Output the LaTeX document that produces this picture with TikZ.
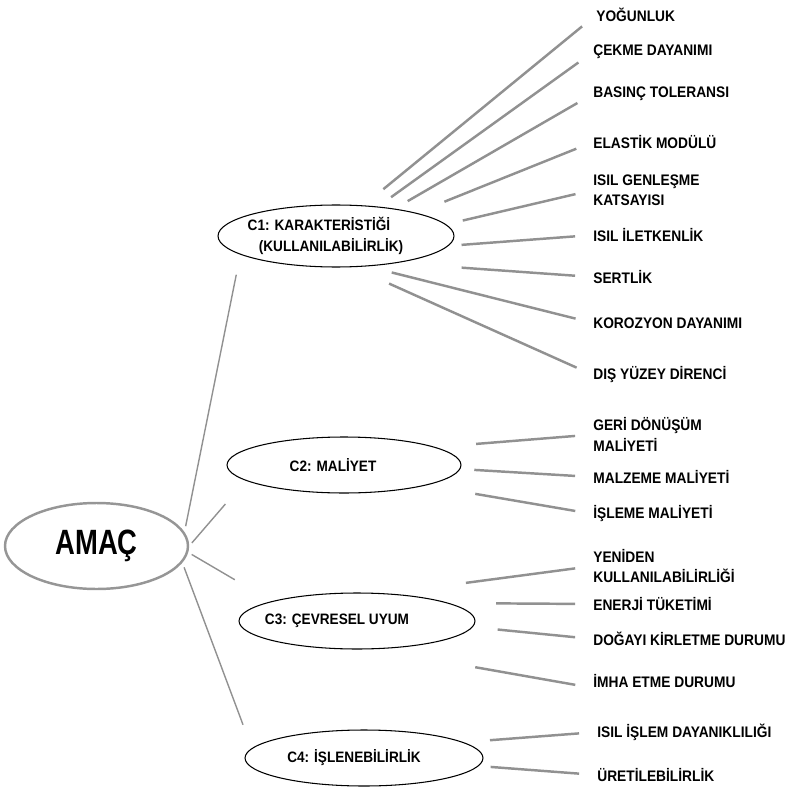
\documentclass[tikz,border=0pt]{standalone}
\usepackage{fontspec}
\newfontfamily\lblfont[FakeStretch=0.9]{Liberation Sans}
\newfontfamily\goalfont[FakeStretch=0.78]{Liberation Sans}
\usetikzlibrary{shapes.geometric}
\definecolor{linegray}{RGB}{145,145,145}
\definecolor{rimgray}{RGB}{150,150,150}
\tikzset{
	goal/.style={ellipse, draw=rimgray, line width=1.4pt, inner sep=0pt,
		minimum width=3.66cm, minimum height=1.72cm,
		font=\goalfont\bfseries\fontsize{20pt}{24pt}\selectfont},
	crit/.style={ellipse, draw, line width=0.6pt, inner sep=0pt, align=center,
		minimum height=1.12cm,
		font=\lblfont\bfseries\fontsize{8.6pt}{11.5pt}\selectfont},
	leaf/.style={anchor=west, inner sep=0pt, align=left,
		font=\lblfont\bfseries\fontsize{8.7pt}{11.5pt}\selectfont},
	branch/.style={draw=linegray, line width=1.4pt, shorten >=0.36cm},
	trunk/.style={draw=linegray, line width=0.8pt}
}
% text set a little left of the ellipse centre, ellipse size kept
\newcommand{\lefttext}[2]{\makebox[0pt]{#2\hspace*{#1}}}

\begin{document}
\begin{tikzpicture}[x=0.02cm, y=-0.02cm]
		\useasboundingbox (0,0) rectangle (787,787);
		
		% goal and criteria
		\node[goal] (amac) at (96.5,546) {AMAÇ};
		\node[crit, minimum width=4.72cm, minimum height=1.24cm] (c1) at (336,236)
			{\lefttext{0.68cm}{C1: KARAKTERİSTİĞİ}\\\lefttext{0.2cm}{(KULLANILABİLİRLİK)}};
		\node[crit, minimum width=4.68cm] (c2) at (344,465) {\lefttext{0.44cm}{C2: MALİYET}};
		\node[crit, minimum width=4.72cm] (c3) at (357,621) {\lefttext{0.8cm}{C3: ÇEVRESEL UYUM}};
		\node[crit, minimum width=4.76cm] (c4) at (364,758) {\lefttext{0.4cm}{C4: İŞLENEBİLİRLİK}};
		
		% sub-criteria of C1
		\node[leaf] (yog) at (596,15) {YOĞUNLUK};
		\node[leaf] (cek) at (593,52) {ÇEKME DAYANIMI};
		\node[leaf] (bas) at (593,94) {BASINÇ TOLERANSI};
		\node[leaf] (ela) at (593,142) {ELASTİK MODÜLÜ};
		\node[leaf] (gen) at (593,190) {ISIL GENLEŞME\\KATSAYISI};
		\node[leaf] (ilt) at (593,235) {ISIL İLETKENLİK};
		\node[leaf] (ser) at (593,277) {SERTLİK};
		\node[leaf] (kor) at (593,323) {KOROZYON DAYANIMI};
		\node[leaf] (dis) at (593,375) {DIŞ YÜZEY DİRENCİ};
		
		% sub-criteria of C2
		\node[leaf] (ger) at (593,434.5) {GERİ DÖNÜŞÜM\\MALİYETİ};
		\node[leaf] (malz) at (593,477) {MALZEME MALİYETİ};
		\node[leaf] (isl) at (593,514) {İŞLEME MALİYETİ};
		
		% sub-criteria of C3
		\node[leaf] (yen) at (593,566) {YENİDEN\\KULLANILABİLİRLİĞİ};
		\node[leaf] (ene) at (593,604) {ENERJİ TÜKETİMİ};
		\node[leaf] (dog) at (593,639) {DOĞAYI KİRLETME DURUMU};
		\node[leaf] (imh) at (593,681) {İMHA ETME DURUMU};
		
		% sub-criteria of C4
		\node[leaf] (isi) at (597,732) {ISIL İŞLEM DAYANIKLILIĞI};
		\node[leaf] (ure) at (597,775) {ÜRETİLEBİLİRLİK};
		
		% goal to criteria
		\draw[trunk, shorten <=0.12cm, shorten >=0.41cm] (amac.9) -- (c1.-169);
		\draw[trunk, shorten <=0.08cm, shorten >=0.62cm] (amac.east) -- (c2.-171);
		\draw[trunk, shorten <=0.08cm, shorten >=0.85cm] (amac.-4) -- (c3.167);
		\draw[trunk, shorten <=0.10cm, shorten >=0.50cm] (amac.-11) -- (c4.175);
		
		% C1 branches
		\draw[branch, shorten <=0.51cm] (c1.48) -- (yog.west);
		\draw[branch, shorten <=0.32cm] (c1.35) -- (cek.west);
		\draw[branch, shorten <=0.30cm] (c1.25) -- (bas.west);
		\draw[branch, shorten <=0.60cm] (c1.16) -- (ela.west);
		\draw[branch, shorten <=0.34cm] (c1.6) -- (gen.west);
		\draw[branch, shorten <=0.26cm] (c1.-5) -- (ilt.west);
		\draw[branch, shorten <=1.30cm] (c1.-24) -- (ser.west);
		\draw[branch, shorten <=0.50cm] (c1.-44) -- (kor.west);
		\draw[branch, shorten <=0.80cm] (c1.-62) -- (dis.west);
		
		% C2 branches
		\draw[branch, shorten <=0.81cm] (c2.11) -- (ger.west);
		\draw[branch, shorten <=0.28cm] (c2.-2) -- (malz.west);
		\draw[branch, shorten <=1.00cm] (c2.-14) -- (isl.west);
		
		% C3 branches
		\draw[branch, shorten <=1.60cm] (c3.43) -- (yen.west);
		\draw[branch, shorten <=0.94cm] (c3.11) -- (ene.west);
		\draw[branch, shorten <=0.50cm] (c3.-3) -- (dog.west);
		\draw[branch, shorten <=2.07cm] (c3.-60) -- (imh.south west);
		
		% C4 branches
		\draw[branch, shorten <=0.53cm] (c4.9) -- (isi.west);
		\draw[branch, shorten <=0.24cm] (c4.-4) -- (ure.west);
	\end{tikzpicture}
\end{document}
